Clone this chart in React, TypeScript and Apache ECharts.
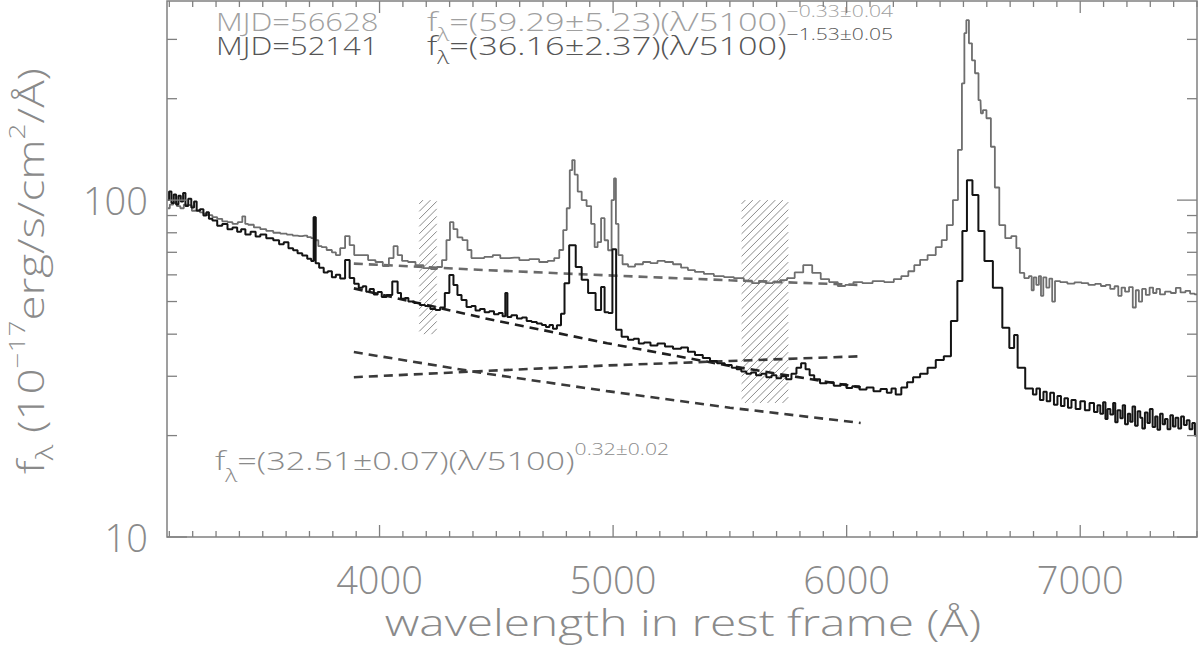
import React, { useEffect, useRef } from "react";
import * as echarts from "echarts";

// ---------- data (wavelength in Å, flux in 1e-17 erg/s/cm2/Å) ----------
const spectrumMJD56628: [number, number][] = [
  [3094,94.6],[3110,97],[3124,98],[3140,96],[3154,94.6],[3170,97],[3188,96.6],[3205,93],[3222,93.3],[3240,92],[3252,91],[3274,90.2],[3295,89],[3315,88],[3338,86.5],[3360,86],[3381,85],[3405,86],[3420,89.5],[3430,85],[3445,84.5],[3479,83],[3500,82],[3530,81],[3560,80],[3590,79.5],[3616,79],[3640,78.5],[3658,78.2],[3680,78.5],[3701,77.6],[3714,77.1],[3722,89],[3731,76],[3745,73],[3760,72.5],[3787,71.1],[3805,70],[3821,68.7],[3842,72],[3863,78.2],[3881,73.5],[3902,68.7],[3936,68.7],[3966,66.4],[3999,65.5],[4029,63.7],[4051,67.3],[4069,73],[4086,68.7],[4107,66],[4137,65.5],[4171,64.1],[4205,62.8],[4235,62.4],[4257,63.3],[4278,66.4],[4295,76.1],[4308,86],[4325,82],[4342,77.5],[4368,76.1],[4385,71.1],[4402,67.3],[4427,67.3],[4470,67.8],[4500,68.7],[4534,67.3],[4577,67.5],[4620,66.4],[4662,66.8],[4705,65.5],[4735,66],[4761,67.3],[4778,71.1],[4795,81.5],[4808,94.6],[4821,122.7],[4829,131.5],[4842,119],[4855,106],[4876,100],[4897,96],[4915,85],[4927,72.5],[4940,75],[4957,88.4],[4970,76],[4987,71],[5000,100],[5008,116],[5016,85],[5030,68.7],[5051,64.5],[5077,63.5],[5111,64.5],[5145,65.5],[5175,65],[5205,66],[5239,65.5],[5274,64.5],[5308,63],[5333,62],[5368,61.2],[5410,60.4],[5453,59.5],[5496,59.1],[5538,58.7],[5581,57.5],[5610,56.7],[5640,57.5],[5667,56.7],[5700,57.1],[5730,57.9],[5760,58.7],[5795,61],[5833,64.1],[5872,60.8],[5906,58.3],[5944,57.1],[5980,55.6],[6008,56.0],[6050,57.1],[6085,56.7],[6137,57.5],[6184,57.1],[6220,58.3],[6248,59.5],[6280,61.5],[6299,64.1],[6330,66.5],[6363,68.7],[6400,72.5],[6414,76.1],[6444,84.3],[6466,100],[6487,141],[6500,222],[6508,313],[6517,342],[6530,292],[6543,260],[6556,238],[6573,198],[6577,181],[6590,185],[6607,175],[6628,144],[6641,109],[6666,84.3],[6692,77.1],[6718,78.2],[6735,72],[6748,60.8],[6773,58.7],[6788,59.5],[6796,54],[6806,59],[6818,56],[6828,59.5],[6836,52],[6848,59],[6862,55],[6874,58.5],[6886,50],[6898,57.5],[6930,57.1],[6960,56.5],[6991,57],[7020,56.7],[7050,56],[7077,56.4],[7100,55.6],[7119,56],[7138,54.5],[7156,55.5],[7170,52],[7184,55],[7200,53.5],[7218,55.2],[7232,48],[7244,54],[7258,50],[7272,54.5],[7290,52.3],[7304,55],[7320,53],[7333,54.5],[7350,52.5],[7376,53.5],[7400,53],[7419,54.9],[7440,53.2],[7461,53.8],[7480,52.8],[7500,52.5]
];

const spectrumMJD52141: [number, number][] = [
  [3094,100],[3104,106],[3114,98],[3124,104],[3134,97],[3144,103],[3154,99],[3164,105],[3174,96],[3188,101],[3200,95],[3212,99],[3222,93],[3240,94],[3252,90],[3265,92],[3274,88],[3295,87],[3315,84],[3338,85],[3360,82],[3381,83],[3400,80.5],[3415,82],[3436,79],[3460,80.5],[3479,78],[3500,79],[3530,77],[3560,76],[3580,74],[3600,75],[3620,72],[3640,71],[3658,69.5],[3680,68.5],[3701,67],[3714,66],[3722,89],[3731,65],[3752,63],[3770,61],[3787,61.5],[3805,59],[3821,60],[3842,58.5],[3863,66.4],[3881,58.7],[3902,56.5],[3920,54.9],[3936,55.5],[3950,53.5],[3966,54.5],[3985,52.5],[3999,53.4],[4020,51.6],[4040,52.3],[4069,57.3],[4086,53],[4098,51],[4110,51.2],[4137,50],[4160,49.5],[4185,48.8],[4205,48.5],[4230,47.5],[4250,47.2],[4269,48],[4290,53],[4308,59.9],[4325,56],[4342,52.3],[4360,50.5],[4385,48.2],[4402,48.5],[4420,47],[4440,47.5],[4460,46.5],[4480,46.8],[4500,45.8],[4520,46.2],[4534,45.2],[4543,53],[4552,45],[4577,45.5],[4600,44.5],[4620,44.8],[4640,43.8],[4662,43.5],[4685,43],[4705,42.6],[4720,42],[4735,42.6],[4750,41.5],[4769,42.5],[4785,46],[4799,56.7],[4825,73.5],[4855,63.3],[4876,58],[4910,53],[4940,47.2],[4957,55.2],[4970,46.5],[4990,46.2],[5004,71.5],[5022,41.2],[5051,39.3],[5077,38.5],[5100,38.8],[5120,37.5],[5145,37.8],[5175,37],[5205,37.5],[5239,36.8],[5274,36.2],[5308,36.5],[5333,35.5],[5368,34.7],[5400,34],[5430,33.3],[5460,32.8],[5496,32.4],[5520,31.8],[5538,31.5],[5560,31],[5581,30.5],[5600,30.8],[5624,30.2],[5645,30.5],[5667,29.8],[5690,30.2],[5709,29.6],[5730,30],[5752,29.4],[5775,30.5],[5795,31.8],[5815,32.8],[5833,31.5],[5850,30.2],[5872,29.4],[5900,28.6],[5930,28.8],[5960,28.1],[5990,28.4],[6008,27.7],[6040,28],[6070,27.4],[6100,27.8],[6130,27.1],[6160,27.5],[6184,26.8],[6200,27.6],[6220,26.5],[6248,27.8],[6270,28.8],[6299,29.8],[6330,30.5],[6363,31.8],[6400,33.5],[6432,34.4],[6461,43.8],[6487,57.5],[6504,81],[6526,114.5],[6551,103.5],[6577,81],[6603,66],[6649,54.9],[6684,41.8],[6709,36.4],[6725,39.8],[6739,31.8],[6790,27.6],[6805,26.5],[6820,27.6],[6835,25.5],[6850,27],[6863,25.3],[6880,26.8],[6895,24.7],[6910,26.2],[6925,24.5],[6940,25.8],[6955,24.2],[6970,25.5],[6991,24],[7010,25.3],[7030,23.8],[7050,25],[7068,23.5],[7080,24.6],[7092,23.2],[7104,25.1],[7112,22.4],[7122,24.0],[7136,23.1],[7146,25.0],[7154,21.9],[7166,23.8],[7178,22.5],[7186,24.6],[7198,21.6],[7210,23.2],[7218,22.0],[7230,24.4],[7240,21.4],[7252,23.6],[7262,22.6],[7270,21.0],[7284,23.4],[7292,21.8],[7304,24.0],[7316,21.2],[7326,22.8],[7336,20.8],[7348,23.2],[7358,21.6],[7368,22.4],[7380,20.9],[7392,23.0],[7402,21.3],[7414,22.6],[7426,21.0],[7438,22.8],[7450,21.5],[7462,22.2],[7474,20.9],[7486,21.8],[7496,20.0]
];

// power-law continuum fits
const fitMJD56628: [number, number][] = [[3890,64.8],[4450,62.0],[4975,59.8],[5500,57.8],[6060,56.0]];
const fitMJD52141: [number, number][] = [[3890,54.7],[4450,44.6],[4975,37.6],[5500,32.2],[6060,27.8]];
const fitRising: [number, number][] = [[3890,29.8],[4450,31.1],[4975,32.3],[5500,33.3],[6060,34.4]];
const fitFalling: [number, number][] = [[3890,35.4],[4450,30.6],[4975,27.1],[5500,24.2],[6060,21.8]];

// hatched continuum windows: [λmin, λmax, fmin, fmax]
const windows: [number, number, number, number][] = [
  [4170, 4245, 40, 100],
  [5550, 5750, 25, 100],
];

const xTickLabels = [4000, 5000, 6000, 7000];
const yTickLabels = [10, 100];
const yMinorValues = [20, 30, 40, 50, 60, 70, 80, 90, 200, 300];
const X_MIN = 3090, X_MAX = 7500, Y_MIN = 10, Y_MAX = 390;

// annotation texts: [text, kind]  kind m = normal, sub = subscript, sup = superscript
const label1MJD = "MJD=56628";
const label1Fit: [string, string][] = [["f", "m"], ["λ", "sub"], ["=(59.29±5.23)(λ/5100)", "m"], ["−0.33±0.04", "sup"]];
const label2MJD = "MJD=52141";
const label2Fit: [string, string][] = [["f", "m"], ["λ", "sub"], ["=(36.16±2.37)(λ/5100)", "m"], ["−1.53±0.05", "sup"]];
const label3Fit: [string, string][] = [["f", "m"], ["λ", "sub"], ["=(32.51±0.07)(λ/5100)", "m"], ["0.32±0.02", "sup"]];
const yTitle: [string, string][] = [["f", "m"], ["λ", "sub"], [" (10", "m"], ["−17", "sup"], ["erg/s/cm", "m"], ["2", "sup"], ["/Å)", "m"]];
const xTitle = "wavelength in rest frame (Å)";

const FONT = "'Open Sans', 'DejaVu Sans', sans-serif";
const WEIGHT = 300;
const AXIS_COLOR = "#808080";
const TEXT_COLOR = "#8a8a8a";

export default function App() {
  const ref = useRef<HTMLDivElement>(null);
  useEffect(() => {
    if (!ref.current) return;
    const chart = echarts.init(ref.current, null, { renderer: "svg" });

    const canvas = document.createElement("canvas");
    const ctx = canvas.getContext("2d") as CanvasRenderingContext2D;
    const measure = (t: string, size: number) => {
      ctx.font = `${WEIGHT} ${size}px ${FONT}`;
      return ctx.measureText(t).width;
    };

    // build pieces of a formula along a baseline (local coordinates), horizontally stretched by sx
    const pieces = (parts: [string, string][], main: number, sub: number, sup: number, subDy: number, supDy: number, color: string, x0: number, yc: number, sx: number) => {
      const els: any[] = [];
      let x = x0;
      for (const [t, k] of parts) {
        const size = k === "m" ? main : k === "sub" ? sub : sup;
        const dy = k === "m" ? 0 : k === "sub" ? subDy : -supDy;
        els.push({ type: "text", x, y: yc + dy, scaleX: sx, silent: true, style: { text: t, fontSize: size, fontFamily: FONT, fontWeight: WEIGHT, fill: color, align: "left", verticalAlign: "middle" } });
        x += measure(t, size) * sx;
      }
      return { els, width: x - x0 };
    };

    const graphics: any[] = [];
    const plainText = (t: string, x: number, yc: number, color: string, size: number, sx: number, align: string) => ({
      type: "text", x, y: yc, scaleX: sx, silent: true,
      style: { text: t, fontSize: size, fontFamily: FONT, fontWeight: WEIGHT, fill: color, align, verticalAlign: "middle" },
    });
    graphics.push(plainText(label1MJD, 216, 21, "#a0a0a0", 25, 1.24, "left"));
    graphics.push(...pieces(label1Fit, 26, 18, 16, 13, 10, "#a0a0a0", 427, 21, 1.32).els);
    graphics.push(plainText(label2MJD, 216, 45, "#555555", 25, 1.24, "left"));
    graphics.push(...pieces(label2Fit, 26, 18, 16, 12, 11, "#555555", 427, 45, 1.32).els);
    graphics.push(...pieces(label3Fit, 26, 18, 16, 15, 11, "#8a8a8a", 215, 460, 1.32).els);
    graphics.push(plainText(xTitle, 683, 622, TEXT_COLOR, 36, 1.33, "center"));
    // rotated y title
    const yt = pieces(yTitle, 36, 24, 22, 14, 14, TEXT_COLOR, 0, 0, 1.27);
    yt.els.forEach((e: any) => (e.x -= yt.width / 2));
    graphics.push({ type: "group", x: 30, y: 271, rotation: Math.PI / 2, silent: true, children: yt.els });

    const xMinor: number[] = [];
    for (let v = 3100; v <= 7500; v += 100) if (v % 1000 !== 0) xMinor.push(v);
    const tickData: number[][] = [
      ...xTickLabels.map((v) => [v, 50, 0]),
      ...xMinor.map((v) => [v, 50, 1]),
      ...yTickLabels.map((v) => [5000, v, 2]),
      ...yMinorValues.map((v) => [5000, v, 3]),
    ];

    const option: any = {
      animation: false,
      backgroundColor: "#ffffff",
      grid: { left: 167, right: 1, top: 1, bottom: 113, show: true, borderColor: AXIS_COLOR, borderWidth: 1.5, backgroundColor: "transparent" },
      xAxis: {
        type: "value", min: X_MIN, max: X_MAX, splitNumber: 4,
        axisLine: { show: false }, axisTick: { show: false }, splitLine: { show: false },
        axisLabel: {
          margin: 23, fontSize: 38, fontFamily: FONT, fontWeight: WEIGHT, color: TEXT_COLOR,
          formatter: (v: number) => (xTickLabels.indexOf(Math.round(v)) >= 0 && Math.abs(v - Math.round(v)) < 1e-6 ? String(Math.round(v)) : ""),
        },
      },
      yAxis: {
        type: "log", logBase: 10, min: Y_MIN, max: Y_MAX,
        axisLine: { show: false }, axisTick: { show: false }, splitLine: { show: false }, minorSplitLine: { show: false },
        axisLabel: {
          margin: 19, fontSize: 38, fontFamily: FONT, fontWeight: WEIGHT, color: TEXT_COLOR,
          formatter: (v: number) => {
            const hit = yTickLabels.find((t) => Math.abs(v - t) / t < 1e-4);
            return hit !== undefined ? String(hit) : "";
          },
        },
      },
      graphic: graphics,
      series: [
        {
          type: "custom", name: "windows", data: windows, z: 1, silent: true, clip: false,
          encode: { x: [0, 1], y: [2, 3] },
          renderItem: (params: any, api: any) => {
            const a = api.coord([api.value(0), api.value(3)]);
            const b = api.coord([api.value(1), api.value(2)]);
            const left = a[0], top = a[1], right = b[0], bottom = b[1];
            const step = 7.5;
            const children: any[] = [];
            for (let c = left + top + step / 2; c < right + bottom; c += step) {
              const xa = Math.max(left, c - bottom);
              const xb = Math.min(right, c - top);
              if (xb > xa) children.push({ type: "line", shape: { x1: xa, y1: c - xa, x2: xb, y2: c - xb }, style: { stroke: "#8c8c8c", lineWidth: 1 } });
            }
            return { type: "group", children };
          },
        },
        { type: "line", name: "fit56628", data: fitMJD56628, symbol: "none", z: 2, lineStyle: { color: "#6a6a6a", width: 2.6, type: [9, 6] } },
        { type: "line", name: "fit52141", data: fitMJD52141, symbol: "none", z: 2, lineStyle: { color: "#202020", width: 2.6, type: [9, 6] } },
        { type: "line", name: "fitRising", data: fitRising, symbol: "none", z: 2, lineStyle: { color: "#3a3a3a", width: 2.6, type: [9, 6] } },
        { type: "line", name: "fitFalling", data: fitFalling, symbol: "none", z: 2, lineStyle: { color: "#3a3a3a", width: 2.6, type: [9, 6] } },
        { type: "line", name: "MJD=56628", data: spectrumMJD56628, step: "middle", symbol: "none", z: 3, lineStyle: { color: "#6e6e6e", width: 1.8 } },
        { type: "line", name: "MJD=52141", data: spectrumMJD52141, step: "middle", symbol: "none", z: 4, lineStyle: { color: "#141414", width: 2 } },
        {
          type: "custom", name: "ticks", data: tickData, z: 5, silent: true, clip: false,
          encode: { x: 0, y: 1 },
          renderItem: (params: any, api: any) => {
            const cs = params.coordSys;
            const kind = api.value(2);
            const p = api.coord([api.value(0), api.value(1)]);
            const style = { stroke: AXIS_COLOR, lineWidth: 1.3 };
            if (kind <= 1) {
              const len = kind === 0 ? 12 : 6;
              const yb = cs.y + cs.height, yt2 = cs.y;
              return {
                type: "group",
                children: [
                  { type: "line", shape: { x1: p[0], y1: yb, x2: p[0], y2: yb - len }, style },
                  { type: "line", shape: { x1: p[0], y1: yt2, x2: p[0], y2: yt2 + len }, style },
                ],
              };
            }
            const len = kind === 2 ? 20 : 10;
            const xl = cs.x, xr = cs.x + cs.width;
            return {
              type: "group",
              children: [
                { type: "line", shape: { x1: xl, y1: p[1], x2: xl + len, y2: p[1] }, style },
                { type: "line", shape: { x1: xr, y1: p[1], x2: xr - len, y2: p[1] }, style },
              ],
            };
          },
        },
      ],
    };
    chart.setOption(option);
    return () => chart.dispose();
  }, []);

  return <div ref={ref} style={{ position: "absolute", left: 0, top: 0, width: 1200, height: 650, background: "#fff" }} />;
}
